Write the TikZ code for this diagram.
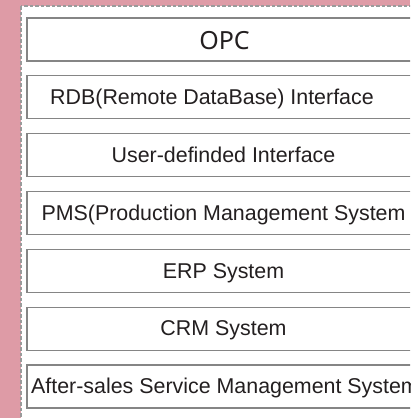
\documentclass[tikz,border=0pt]{standalone}
\usepackage{fontspec}
\setmainfont{Liberation Sans}
\newfontfamily\opcfont{Noto Sans}
\definecolor{pinkbg}{HTML}{DE9BA6}
\definecolor{dashgray}{HTML}{9A9A9A}
\definecolor{boxgray}{HTML}{858585}
\definecolor{txt}{HTML}{231F20}
\tikzset{
  layerbox/.style={draw=boxgray, line width=1.2pt, fill=white, minimum width=393pt, minimum height=43pt, inner sep=0pt},
  layertext/.style={text=txt, font=\fontsize{21.4}{24}\selectfont, inner sep=0pt, text height=14.5pt, text depth=0pt},
}
\begin{document}
\begin{tikzpicture}[x=1pt,y=-1pt]
\useasboundingbox (0,0) rectangle (410,418);
\clip (0,0) rectangle (410,418);
\fill[pinkbg] (0,0) rectangle (410,418);
\draw[dashgray, fill=white, line width=2.4pt, dash pattern=on 3.5pt off 2pt] (21,6) rectangle (440,440);
% boxes
\node[layerbox] (b1) at (223.5,39.5) {};
\node[layerbox] (b2) at (223.5,97.3) {};
\node[layerbox] (b3) at (223.5,155.2) {};
\node[layerbox] (b4) at (223.5,213) {};
\node[layerbox] (b5) at (223.5,270.8) {};
\node[layerbox] (b6) at (223.5,328.7) {};
\node[layerbox] (b7) at (223.5,386.5) {};
% texts
\node[text=txt, font=\opcfont\fontsize{25}{28}\selectfont, inner sep=0pt, text height=18pt, text depth=0pt] (t1) at (224.5,40.8) {OPC};
\node[layertext] (t2) at (212,97.3) {RDB(Remote DataBase) Interface};
\node[layertext] (t3) at (223.5,155.2) {User-definded Interface};
\node[layertext] (t4) at (223.5,213) {PMS(Production Management System};
\node[layertext] (t5) at (223.5,270.8) {ERP System};
\node[layertext] (t6) at (223.5,328.7) {CRM System};
\node[layertext] (t7) at (225,386.5) {After-sales Service Management System};
\end{tikzpicture}
\end{document}
